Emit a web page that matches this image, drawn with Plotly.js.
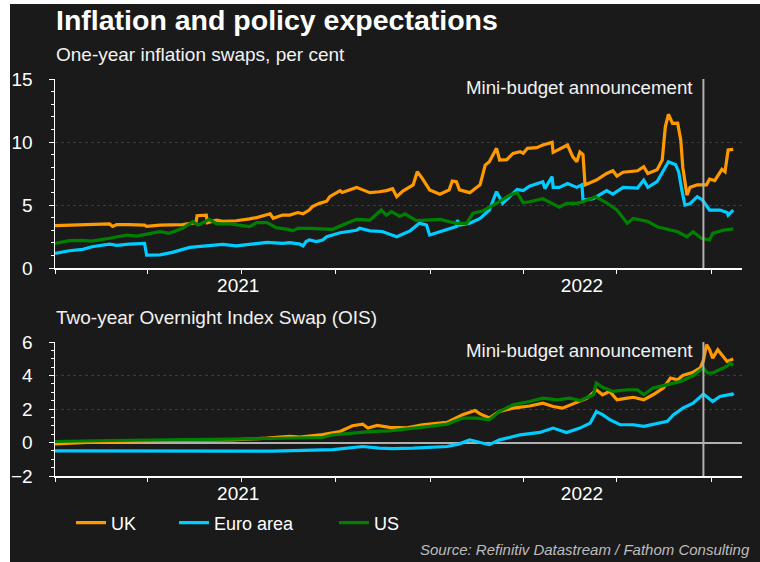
<!DOCTYPE html>
<html><head><meta charset="utf-8">
<script src="https://cdn.plot.ly/plotly-3.0.1.min.js"></script>
<style>
html,body{margin:0;padding:0;background:#ffffff;width:760px;height:562px;overflow:hidden}
#chart{position:absolute;left:10px;top:4px;width:750px;height:558px}
</style>
</head><body><div id="chart"></div>
<script>
// ---- One-year inflation swaps (per cent) ----
const ukSwapDates = ['2021-01-01','2021-01-15','2021-02-06','2021-02-23','2021-02-26','2021-03-02','2021-03-14','2021-03-29','2021-03-31','2021-04-13','2021-05-05','2021-05-12','2021-05-18','2021-05-19','2021-05-28','2021-05-29','2021-06-07','2021-06-13','2021-06-26','2021-07-09','2021-07-16','2021-07-29','2021-08-01','2021-08-10','2021-08-17','2021-08-25','2021-08-30','2021-09-05','2021-09-08','2021-09-15','2021-09-22','2021-09-25','2021-10-05','2021-10-07','2021-10-14','2021-10-21','2021-10-27','2021-11-03','2021-11-12','2021-11-19','2021-11-25','2021-11-29','2021-12-05','2021-12-12','2021-12-15','2021-12-19','2021-12-24','2021-12-31','2022-01-10','2022-01-19','2022-01-22','2022-01-26','2022-01-29','2022-02-08','2022-02-18','2022-02-23','2022-02-27','2022-03-06','2022-03-09','2022-03-16','2022-03-22','2022-03-29','2022-04-01','2022-04-05','2022-04-14','2022-04-20','2022-04-29','2022-04-30','2022-05-06','2022-05-14','2022-05-19','2022-05-23','2022-05-26','2022-05-29','2022-05-31','2022-06-11','2022-06-21','2022-06-27','2022-07-01','2022-07-07','2022-07-21','2022-07-27','2022-07-31','2022-08-09','2022-08-14','2022-08-17','2022-08-20','2022-08-24','2022-08-29','2022-09-01','2022-09-03','2022-09-07','2022-09-10','2022-09-17','2022-09-26','2022-09-29','2022-10-04','2022-10-11','2022-10-14','2022-10-17','2022-10-22'];
const ukSwap = [3.36,3.40,3.45,3.50,3.30,3.45,3.45,3.40,3.30,3.40,3.45,3.50,3.60,4.15,4.20,3.60,3.80,3.70,3.75,3.90,4.00,4.30,3.95,4.20,4.20,4.40,4.30,4.60,4.87,5.13,5.30,5.66,6.14,6.00,6.20,6.40,6.20,5.98,6.05,6.14,6.30,5.66,6.10,6.40,6.60,7.64,7.10,6.20,5.85,6.20,6.90,6.85,6.20,5.98,6.60,8.17,8.44,9.50,8.57,8.60,9.10,9.23,9.10,9.50,9.55,9.76,9.97,9.18,9.40,9.76,8.84,8.44,9.20,9.00,6.60,6.98,7.50,7.72,7.30,7.60,7.72,8.04,7.50,7.80,8.57,11.20,12.20,11.48,11.50,10.16,7.98,5.79,6.40,6.60,6.60,7.06,6.94,7.83,7.64,9.37,9.42];

const euSwapDates = ['2021-01-01','2021-01-15','2021-01-28','2021-02-06','2021-02-23','2021-03-02','2021-03-14','2021-03-29','2021-03-31','2021-04-13','2021-04-25','2021-05-12','2021-05-28','2021-06-13','2021-06-26','2021-07-09','2021-07-26','2021-08-10','2021-08-17','2021-08-27','2021-08-30','2021-09-02','2021-09-05','2021-09-12','2021-09-18','2021-09-22','2021-10-05','2021-10-21','2021-10-24','2021-11-03','2021-11-15','2021-11-29','2021-12-12','2021-12-21','2021-12-28','2021-12-31','2022-01-10','2022-01-19','2022-01-26','2022-01-27','2022-01-29','2022-02-08','2022-02-18','2022-02-27','2022-03-06','2022-03-12','2022-03-19','2022-03-26','2022-04-01','2022-04-07','2022-04-20','2022-04-22','2022-04-29','2022-04-30','2022-05-06','2022-05-14','2022-05-23','2022-05-28','2022-05-29','2022-06-08','2022-06-21','2022-06-27','2022-07-07','2022-07-21','2022-07-27','2022-07-31','2022-08-09','2022-08-15','2022-08-20','2022-08-27','2022-08-30','2022-09-02','2022-09-05','2022-09-10','2022-09-17','2022-09-22','2022-09-29','2022-10-09','2022-10-16','2022-10-17','2022-10-22'];
const euSwap = [1.16,1.37,1.48,1.69,1.90,1.80,1.90,1.96,1.03,1.05,1.24,1.64,1.75,1.88,1.75,1.85,2.04,1.96,2.01,1.90,1.75,2.10,2.22,2.10,2.22,2.48,2.80,3.00,3.15,2.95,2.90,2.48,2.95,3.55,3.40,2.62,2.90,3.15,3.30,3.80,3.40,3.55,3.94,4.60,6.06,5.13,5.66,6.24,6.14,6.50,6.85,6.30,7.25,6.40,6.40,6.70,6.40,6.60,5.40,5.50,6.14,5.87,6.40,6.35,6.98,6.40,6.85,7.78,8.44,8.20,7.62,6.20,5.00,5.10,5.66,5.40,4.60,4.60,4.40,4.20,4.60];

const usSwapDates = ['2021-01-01','2021-01-15','2021-01-28','2021-02-06','2021-02-23','2021-03-12','2021-03-21','2021-04-03','2021-04-13','2021-04-22','2021-05-05','2021-05-15','2021-05-20','2021-05-31','2021-06-07','2021-06-20','2021-07-09','2021-07-16','2021-07-26','2021-08-04','2021-08-17','2021-08-20','2021-08-25','2021-09-05','2021-09-28','2021-10-05','2021-10-21','2021-11-03','2021-11-14','2021-11-19','2021-11-24','2021-12-02','2021-12-07','2021-12-18','2021-12-31','2022-01-10','2022-01-26','2022-02-05','2022-02-11','2022-02-21','2022-03-06','2022-03-19','2022-03-26','2022-04-01','2022-04-07','2022-04-20','2022-05-06','2022-05-13','2022-05-23','2022-05-29','2022-06-10','2022-06-21','2022-07-01','2022-07-11','2022-07-17','2022-07-31','2022-08-09','2022-08-19','2022-08-29','2022-09-07','2022-09-13','2022-09-21','2022-09-29','2022-10-02','2022-10-12','2022-10-22'];
const usSwap = [1.96,2.17,2.20,2.14,2.36,2.62,2.54,2.70,2.88,2.75,3.15,3.68,3.40,3.86,3.50,3.50,3.28,3.60,3.60,3.20,3.05,2.95,3.15,3.15,3.07,3.33,3.86,3.80,4.60,4.20,4.47,4.10,4.30,3.76,3.80,3.86,3.55,3.55,4.34,4.55,5.13,5.80,5.98,5.18,5.26,5.50,4.82,5.13,5.13,5.26,5.66,5.18,4.60,3.55,3.94,3.70,3.28,3.07,2.88,2.48,2.88,2.36,2.23,2.75,3.00,3.10];

// ---- Two-year Overnight Index Swap (per cent) ----
const ukOisDates = ['2021-01-01','2021-01-28','2021-02-23','2021-04-19','2021-06-23','2021-07-26','2021-08-17','2021-08-27','2021-09-18','2021-10-05','2021-10-17','2021-10-27','2021-11-01','2021-11-10','2021-11-22','2021-12-09','2021-12-24','2022-01-17','2022-02-01','2022-02-13','2022-02-18','2022-02-27','2022-03-09','2022-03-22','2022-04-07','2022-04-20','2022-04-30','2022-05-09','2022-05-19','2022-06-02','2022-06-11','2022-06-17','2022-06-24','2022-07-01','2022-07-11','2022-07-17','2022-07-27','2022-08-05','2022-08-15','2022-08-22','2022-08-29','2022-09-03','2022-09-13','2022-09-20','2022-09-23','2022-09-26','2022-09-29','2022-10-02','2022-10-07','2022-10-16','2022-10-22'];
const ukOis = [-0.08,0.00,0.06,0.12,0.16,0.26,0.36,0.32,0.47,0.66,1.00,1.10,0.87,1.02,0.90,0.87,1.06,1.20,1.66,1.91,1.71,1.46,1.86,2.05,2.18,2.35,2.15,2.05,2.30,2.65,3.15,2.85,3.05,2.55,2.65,2.70,2.55,2.85,3.25,3.85,3.75,4.00,4.20,4.45,4.90,5.84,5.54,5.04,5.54,4.84,4.98];

const euOisDates = ['2021-01-01','2021-06-23','2021-08-01','2021-09-28','2021-10-27','2021-11-12','2021-11-25','2021-12-15','2022-01-17','2022-01-29','2022-02-08','2022-02-18','2022-02-27','2022-03-09','2022-03-29','2022-04-17','2022-04-30','2022-05-13','2022-05-26','2022-06-05','2022-06-11','2022-06-17','2022-06-24','2022-07-04','2022-07-17','2022-07-27','2022-08-09','2022-08-19','2022-08-25','2022-09-03','2022-09-13','2022-09-23','2022-10-02','2022-10-09','2022-10-21','2022-10-22'];
const euOis = [-0.50,-0.50,-0.52,-0.43,-0.24,-0.34,-0.37,-0.34,-0.24,-0.08,0.16,0.00,-0.13,0.16,0.46,0.60,0.86,0.60,0.86,1.16,1.85,1.66,1.37,1.06,1.06,0.97,1.16,1.26,1.66,2.05,2.35,2.89,2.45,2.75,2.89,2.80];

const usOisDates = ['2021-01-01','2021-02-23','2021-06-23','2021-08-27','2021-09-18','2021-09-28','2021-10-14','2021-11-06','2021-11-22','2021-12-09','2021-12-31','2022-01-17','2022-02-01','2022-02-15','2022-02-27','2022-03-09','2022-03-22','2022-04-07','2022-04-20','2022-05-04','2022-05-16','2022-05-26','2022-06-08','2022-06-11','2022-06-17','2022-06-27','2022-07-11','2022-07-21','2022-07-27','2022-08-05','2022-08-19','2022-09-01','2022-09-13','2022-09-23','2022-09-27','2022-10-02','2022-10-16','2022-10-19','2022-10-22'];
const usOis = [0.06,0.12,0.20,0.26,0.30,0.46,0.56,0.66,0.70,0.80,0.96,1.10,1.46,1.46,1.36,1.86,2.25,2.45,2.65,2.55,2.65,2.50,2.85,3.55,3.30,3.05,3.15,3.15,2.85,3.25,3.45,3.65,4.00,4.45,4.15,4.15,4.55,4.75,4.60];

const seriesNames = ['UK','Euro area','US'];
const seriesColors = ['#ff9900','#00ccff','#008000'];
const yearTickVals = ['2021-06-28','2022-05-28'];
const yearTickText = ['2021','2022'];
const xRange = ['2021-01-01','2022-10-30 12:00'];
const budgetDate = '2022-09-23';
const budgetLabel = 'Mini-budget announcement';

const FONT = '"Liberation Sans", Arial, Helvetica, sans-serif';
const BG = '#1a1a1a';

const topData = [[ukSwapDates,ukSwap],[euSwapDates,euSwap],[usSwapDates,usSwap]];
const botData = [[ukOisDates,ukOis],[euOisDates,euOis],[usOisDates,usOis]];
const legendIds = ['legend','legend2','legend3'];

const traces = [];
topData.forEach((d,i)=>traces.push({
  type:'scatter', mode:'lines', x:d[0], y:d[1], xaxis:'x', yaxis:'y',
  name:seriesNames[i], legend:legendIds[i],
  line:{color:seriesColors[i], width:3.2}
}));
botData.forEach((d,i)=>traces.push({
  type:'scatter', mode:'lines', x:d[0], y:d[1], xaxis:'x2', yaxis:'y2',
  name:seriesNames[i], showlegend:false,
  line:{color:seriesColors[i], width:3.2}
}));

function xAxis(anchor){
  return {
    type:'date', range:xRange, anchor:anchor,
    tickmode:'array', tickvals:yearTickVals, ticktext:yearTickText, ticks:'',
    ticklabelstandoff:0,
    showline:true, linecolor:'#ffffff', linewidth:1.5,
    showgrid:false, zeroline:false,
    tickfont:{size:19, color:'#ffffff', family:FONT},
    minor:{ticks:'outside', dtick:'M3', tick0:'2021-01-01', ticklen:4, tickcolor:'#ffffff', tickwidth:1, showgrid:false},
    fixedrange:true
  };
}
function yAxis(domain, range, vals, minorStep, zero){
  return {
    domain:domain, range:range, tickmode:'array', tickvals:vals,
    ticks:'outside', ticklen:5, tickcolor:'#ffffff', tickwidth:1,
    ticklabelstandoff:12,
    showline:true, linecolor:'#ffffff', linewidth:1.5,
    showgrid:true, gridcolor:'#3a3a3a', gridwidth:1, griddash:'dot',
    zeroline:zero, zerolinecolor:'#b0b0b0', zerolinewidth:2,
    tickfont:{size:19, color:'#ffffff', family:FONT},
    minor:{ticks:'outside', dtick:minorStep, ticklen:3, tickcolor:'#ffffff', tickwidth:1, showgrid:false},
    fixedrange:true
  };
}
function legendDef(x){
  return {orientation:'h', x:x, xanchor:'left', y:-0.118, yanchor:'middle',
    bgcolor:'rgba(0,0,0,0)', borderwidth:0,
    font:{size:18, color:'#ffffff', family:FONT}};
}

const layout = {
  width:750, height:558,
  margin:{l:45, r:18, t:75, b:86},
  paper_bgcolor:BG, plot_bgcolor:BG,
  font:{family:FONT, color:'#ffffff'},
  showlegend:true,
  xaxis:xAxis('y'),
  xaxis2:xAxis('y2'),
  yaxis:yAxis([0.5239,1],[0,15],[0,5,10,15],1,false),
  yaxis2:yAxis([0,0.3375],[-2,6],[-2,0,2,4,6],0.5,true),
  legend:legendDef(0.0233),
  legend2:legendDef(0.1732),
  legend3:legendDef(0.4061),
  shapes:[
    {type:'line', xref:'x', yref:'y domain', x0:budgetDate, x1:budgetDate, y0:0, y1:1, line:{color:'#b0b0b0', width:2}},
    {type:'line', xref:'x2', yref:'y2 domain', x0:budgetDate, x1:budgetDate, y0:0, y1:1, line:{color:'#b0b0b0', width:2}}
  ],
  annotations:[
    {text:'<b>Inflation and policy expectations</b>', xref:'paper', yref:'paper', x:0, xshift:-1, y:1.1486, xanchor:'left', yanchor:'middle', showarrow:false, font:{size:28.5, color:'#ffffff', family:FONT}},
    {text:'One-year inflation swaps, per cent', xref:'paper', yref:'paper', x:0, xshift:-1, y:1.0605, xanchor:'left', yanchor:'middle', showarrow:false, font:{size:19, color:'#f2f2f2', family:FONT}},
    {text:'Two-year Overnight Index Swap (OIS)', xref:'paper', yref:'paper', x:0, xshift:-1, y:0.398, xanchor:'left', yanchor:'middle', showarrow:false, font:{size:19, color:'#f2f2f2', family:FONT}},
    {text:budgetLabel, xref:'x', yref:'y domain', x:budgetDate, y:1, xanchor:'right', yanchor:'top', xshift:-8, yshift:4, showarrow:false, font:{size:18.7, color:'#f2f2f2', family:FONT}},
    {text:budgetLabel, xref:'x2', yref:'y2 domain', x:budgetDate, y:1, xanchor:'right', yanchor:'top', xshift:-8, yshift:4, showarrow:false, font:{size:18.7, color:'#f2f2f2', family:FONT}},
    {text:'<i>Source: Refinitiv Datastream / Fathom Consulting</i>', xref:'paper', yref:'paper', x:1.0146, y:-0.1839, xanchor:'right', yanchor:'middle', showarrow:false, font:{size:15, color:'#bdbdbd', family:FONT}}
  ]
};

Plotly.newPlot('chart', traces, layout, {displayModeBar:false, staticPlot:true});
</script></body></html>
